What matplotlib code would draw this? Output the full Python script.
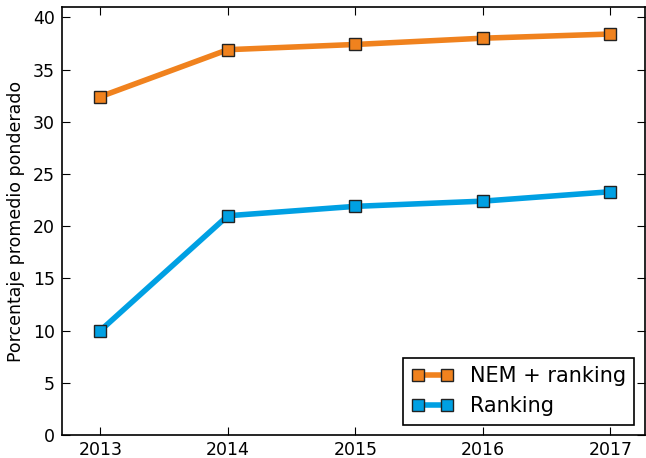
import matplotlib
matplotlib.use("Agg")
import matplotlib.pyplot as plt

years = [2013, 2014, 2015, 2016, 2017]
nem_ranking = [32.4, 36.9, 37.4, 38.0, 38.4]
ranking = [10.0, 21.0, 21.9, 22.4, 23.3]

fig, ax = plt.subplots(figsize=(6.46, 4.58), dpi=100)

ax.plot(years, nem_ranking, color='#f0821e', lw=4, marker='s', ms=8,
        mfc='#f0821e', mec='#222222', mew=1, label='NEM + ranking')
ax.plot(years, ranking, color='#00a0e3', lw=4, marker='s', ms=8,
        mfc='#00a0e3', mec='#222222', mew=1, label='Ranking')

ax.set_xlim(2012.7, 2017.27)
ax.set_ylim(0, 41)
ax.set_xticks(years)
ax.set_yticks(range(0, 41, 5))
ax.tick_params(direction='in', top=True, right=True, labelsize=12.5, length=6)
ax.tick_params(axis='x', pad=4)
ax.tick_params(axis='y', pad=5)
for s in ax.spines.values():
    s.set_linewidth(1.2)
ax.set_ylabel('Porcentaje promedio ponderado', fontsize=12.5, labelpad=6)

leg = ax.legend(loc='lower right', fontsize=15, fancybox=False, framealpha=1,
                edgecolor='black', borderaxespad=0.5, handlelength=2.0,
                numpoints=2)
leg.get_frame().set_linewidth(1.2)

fig.subplots_adjust(left=0.096, right=0.998, top=0.985, bottom=0.05)
fig.savefig('out.png')
